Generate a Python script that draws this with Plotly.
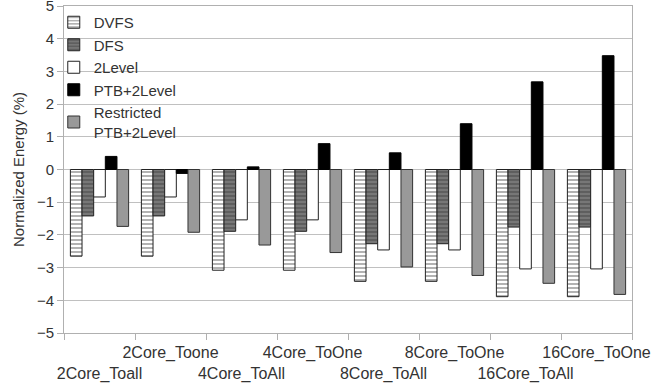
import plotly.graph_objects as go

categories = ["2Core_Toall", "2Core_Toone", "4Core_ToAll", "4Core_ToOne",
              "8Core_ToAll", "8Core_ToOne", "16Core_ToAll", "16Core_ToOne"]
dvfs = [-2.65, -2.65, -3.08, -3.08, -3.42, -3.42, -3.89, -3.89]
dfs = [-1.42, -1.42, -1.89, -1.89, -2.27, -2.27, -1.76, -1.76]
two_level = [-0.84, -0.84, -1.54, -1.54, -2.46, -2.46, -3.04, -3.04]
ptb = [0.40, -0.12, 0.08, 0.79, 0.51, 1.40, 2.68, 3.48]
restricted = [-1.74, -1.92, -2.31, -2.54, -2.98, -3.24, -3.48, -3.82]
tick_text = [("<br>" + c) if i % 2 == 0 else c for i, c in enumerate(categories)]

fig = go.Figure()
common_line = dict(color="#222222", width=1)
fig.add_bar(name="DVFS", x=categories, y=dvfs,
            marker=dict(color="white", line=common_line,
                        pattern=dict(shape="-", fgcolor="black", bgcolor="white", size=4, solidity=0.3)))
fig.add_bar(name="DFS", x=categories, y=dfs,
            marker=dict(color="#777777", line=common_line,
                        pattern=dict(shape="-", fgcolor="#222222", bgcolor="#777777", size=4, solidity=0.3)))
fig.add_bar(name="2Level", x=categories, y=two_level,
            marker=dict(color="white", line=common_line))
fig.add_bar(name="PTB+2Level", x=categories, y=ptb,
            marker=dict(color="black", line=dict(color="black", width=1)))
fig.add_bar(name="Restricted<br>PTB+2Level", x=categories, y=restricted,
            marker=dict(color="#999999", line=dict(color="#333333", width=1)))

fig.update_layout(
    width=651, height=387,
    margin=dict(l=64, r=19, t=6, b=54, autoexpand=False),
    barmode="group", bargap=0.18, bargroupgap=0,
    plot_bgcolor="white", paper_bgcolor="white",
    font=dict(family="Liberation Sans, Arial, sans-serif", size=16, color="#333333"),
    legend=dict(x=-0.018, y=1.0, xanchor="left", yanchor="top",
                bgcolor="rgba(0,0,0,0)", font=dict(size=15, color="#333333"),
                tracegroupgap=0, itemwidth=30),
    showlegend=True,
)
fig.update_yaxes(range=[-5, 5], dtick=1, showgrid=True, gridcolor="#c0c0c0", gridwidth=1,
                 zeroline=True, zerolinecolor="#c0c0c0", zerolinewidth=1,
                 showline=True, linecolor="#b0b0b0", mirror=True,
                 ticks="outside", ticklen=6, tickcolor="#b0b0b0",
                 tickfont=dict(size=15, color="#333333"), ticklabeloverflow="allow",
                 automargin=False,
                 title=dict(text="Normalized Energy (%)", font=dict(size=15, color="#333333"), standoff=8))
fig.update_xaxes(tickmode="array", tickvals=categories, ticktext=tick_text,
                 tickson="boundaries", ticks="outside", ticklen=6, tickcolor="#b0b0b0",
                 showline=True, linecolor="#b0b0b0", mirror=True, showgrid=False,
                 tickangle=0, tickfont=dict(size=16, color="#333333"), ticklabelstandoff=5,
                 ticklabeloverflow="allow", automargin=False)

fig.write_html("out.html", config={"displayModeBar": False},
               post_script="document.body.style.margin='0';document.body.style.overflow='hidden';")
